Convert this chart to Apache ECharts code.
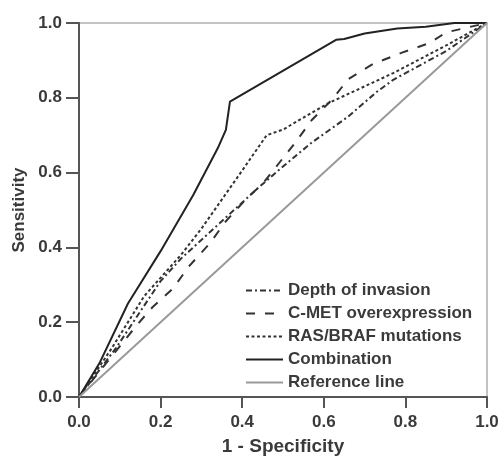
<!DOCTYPE html>
<html>
<head>
<meta charset="utf-8">
<script src="https://cdn.jsdelivr.net/npm/echarts@6/dist/echarts.min.js"></script>
<style>
  html, body { margin: 0; padding: 0; background: #fff; }
  #chart { width: 500px; height: 457px; }
</style>
</head>
<body>
<div id="chart"></div>
<script>
  // ROC curves, points are [1 - specificity, sensitivity]
  var depthOfInvasion = [[0, 0], [0.09, 0.13], [0.2, 0.31], [0.25, 0.37], [0.35, 0.47], [0.44, 0.56], [0.49, 0.607], [0.57, 0.68], [0.66, 0.75], [0.73, 0.816], [0.77, 0.848], [0.9, 0.925], [1, 1]];
  var cMet = [[0, 0], [0.14, 0.19], [0.18, 0.24], [0.23, 0.29], [0.27, 0.35], [0.32, 0.41], [0.36, 0.47], [0.41, 0.53], [0.45, 0.57], [0.49, 0.625], [0.53, 0.68], [0.57, 0.74], [0.62, 0.795], [0.66, 0.85], [0.72, 0.89], [0.79, 0.92], [0.86, 0.947], [0.9, 0.975], [1, 1]];
  var rasBraf = [[0, 0], [0.08, 0.13], [0.16, 0.27], [0.25, 0.38], [0.3, 0.45], [0.39, 0.59], [0.46, 0.70], [0.5, 0.715], [0.61, 0.785], [0.77, 0.866], [0.9, 0.94], [1, 1]];
  var combination = [[0, 0], [0.05, 0.09], [0.12, 0.25], [0.2, 0.39], [0.28, 0.54], [0.34, 0.665], [0.36, 0.714], [0.37, 0.79], [0.63, 0.955], [0.65, 0.957], [0.7, 0.972], [0.78, 0.985], [0.85, 0.99], [0.92, 1], [1, 1]];
  var referenceLine = [[0, 0], [1, 1]];
  var seriesNames = ['Depth of invasion', 'C-MET overexpression', 'RAS/BRAF mutations', 'Combination', 'Reference line'];

  var labelFont = { color: '#3a3a3a', fontWeight: 'bold', fontFamily: 'Liberation Sans, Arial, sans-serif' };

  function curve(name, data, color, width, dash) {
    return {
      name: name,
      type: 'line',
      data: data,
      symbol: 'none',
      animation: false,
      lineStyle: { color: color, width: width, type: dash },
      itemStyle: { color: color }
    };
  }

  var myChart = echarts.init(document.getElementById('chart'));
  myChart.setOption({
    grid: {
      left: 79, right: 13, top: 23, bottom: 60,
      outerBoundsMode: 'none',
      show: true,
      borderColor: '#b0b0b0',
      borderWidth: 1.5
    },
    legend: {
      data: seriesNames,
      orient: 'vertical',
      left: 240,
      top: 277,
      itemWidth: 37,
      itemHeight: 16,
      itemGap: 6,
      itemStyle: { opacity: 0 },
      textStyle: Object.assign({ fontSize: 17, lineHeight: 16 }, labelFont)
    },
    xAxis: {
      type: 'value',
      min: 0, max: 1, interval: 0.2,
      name: '1 - Specificity',
      nameLocation: 'middle',
      nameGap: 40,
      nameTextStyle: Object.assign({ fontSize: 19 }, labelFont),
      axisLine: { lineStyle: { color: '#555', width: 2 } },
      axisTick: { length: 11, lineStyle: { color: '#555', width: 2 } },
      axisLabel: Object.assign({ fontSize: 17, margin: 17, formatter: function (v) { return v.toFixed(1); } }, labelFont),
      splitLine: { show: false }
    },
    yAxis: {
      type: 'value',
      min: 0, max: 1, interval: 0.2,
      name: 'Sensitivity',
      nameLocation: 'middle',
      nameGap: 47,
      nameTextStyle: Object.assign({ fontSize: 17 }, labelFont),
      axisLine: { lineStyle: { color: '#555', width: 2 } },
      axisTick: { length: 13, lineStyle: { color: '#555', width: 2 } },
      axisLabel: Object.assign({ fontSize: 17, margin: 17, formatter: function (v) { return v.toFixed(1); } }, labelFont),
      splitLine: { show: false }
    },
    series: [
      curve(seriesNames[0], depthOfInvasion, '#333', 2, [6, 3, 2, 3]),
      curve(seriesNames[1], cMet, '#333', 2, [9, 10]),
      curve(seriesNames[2], rasBraf, '#333', 2, [3, 2.5]),
      curve(seriesNames[3], combination, '#222', 2, 'solid'),
      curve(seriesNames[4], referenceLine, '#999', 2, 'solid')
    ]
  });
</script>
</body>
</html>
